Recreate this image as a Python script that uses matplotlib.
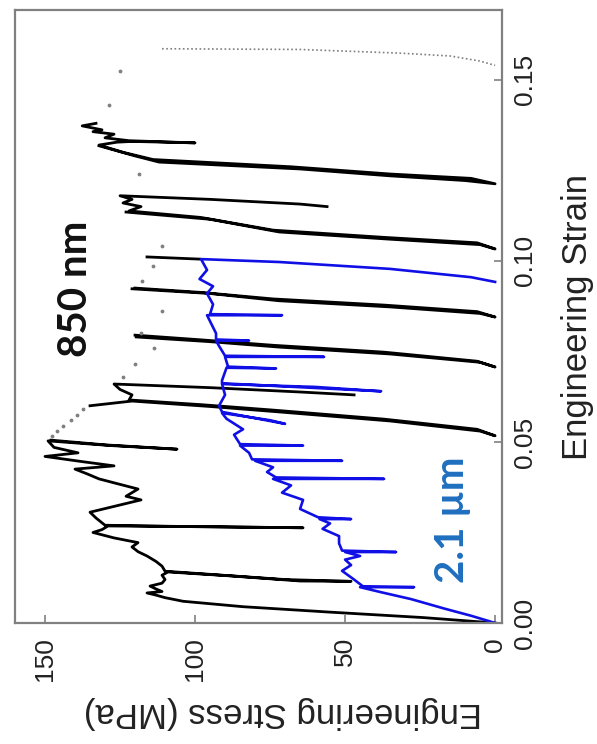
import matplotlib
matplotlib.use('Agg')
import matplotlib.pyplot as plt

# The chart is drawn turned on its side: stress runs along the bottom
# (increasing to the left) and strain runs up the right-hand side.
# Every segment below is a list of (strain, stress in MPa) pairs.

# 850 nm pillar - loading up to the first big peak
black_start = [(0.0000, 0), (0.0015, 24), (0.0030, 55), (0.0045, 84), (0.0060, 104),
               (0.0070, 110), (0.0077, 113), (0.0083, 116), (0.0087, 111), (0.0094, 113),
               (0.0102, 115), (0.0110, 111), (0.0120, 110), (0.0132, 111), (0.0141, 109),
               (0.0130, 88), (0.0116, 65), (0.0115, 48), (0.0120, 70), (0.0143, 110),
               (0.0157, 111), (0.0170, 113), (0.0185, 116), (0.0197, 119), (0.0210, 121),
               (0.0222, 119), (0.0235, 127), (0.0250, 134), (0.0258, 131), (0.0268, 129),
               (0.0266, 96), (0.0263, 64), (0.0266, 100), (0.0270, 130), (0.0290, 133),
               (0.0306, 135), (0.0320, 128), (0.0340, 118), (0.0350, 123), (0.0370, 119),
               (0.0385, 126), (0.0398, 132), (0.0412, 136), (0.0425, 140), (0.0434, 127),
               (0.0445, 137), (0.0460, 150), (0.0470, 139), (0.0485, 147), (0.0503, 149),
               (0.0490, 128), (0.0480, 106), (0.0492, 130), (0.0505, 148)]

# 850 nm - unload/reload loops
loop_a = [(0.0600, 135), (0.0613, 121), (0.0598, 95), (0.0583, 72), (0.0558, 35),
          (0.0530, 5), (0.0517, 0), (0.0535, 6), (0.0563, 37), (0.0588, 74),
          (0.0603, 98), (0.0616, 122), (0.0630, 121), (0.0645, 125), (0.0660, 127),
          (0.0650, 95), (0.0638, 65), (0.0630, 47)]
loop_b = [(0.0790, 119.6), (0.0777, 95), (0.0762, 72), (0.0743, 35), (0.0720, 5),
          (0.0707, 0), (0.0723, 6), (0.0748, 37), (0.0767, 74), (0.0782, 98), (0.0795, 120)]
loop_c = [(0.0923, 121), (0.0910, 95), (0.0890, 72), (0.0873, 35), (0.0855, 5),
          (0.0845, 0), (0.0860, 6), (0.0878, 37), (0.0895, 74), (0.0913, 98), (0.0925, 120)]
drop_d = [(0.1011, 116), (0.1005, 98.5)]
loop_d = [(0.1135, 123), (0.1115, 95), (0.1080, 72), (0.1060, 35), (0.1045, 5),
          (0.1033, 0), (0.1050, 6), (0.1065, 37), (0.1085, 74), (0.1120, 98),
          (0.1138, 122), (0.1150, 118), (0.1160, 124), (0.1170, 121), (0.1180, 125),
          (0.1170, 95), (0.1157, 65), (0.1150, 56)]
loop_e = [(0.1318, 132), (0.1290, 120), (0.1273, 112), (0.1254, 65), (0.1235, 35),
          (0.1222, 10), (0.1213, 0), (0.1228, 8), (0.1240, 35), (0.1260, 68),
          (0.1280, 114), (0.1300, 124), (0.1320, 132), (0.1328, 126), (0.1330, 121),
          (0.1328, 110), (0.1326, 100), (0.1332, 122), (0.1340, 130), (0.1350, 127),
          (0.1357, 134), (0.1362, 131), (0.1373, 137.6), (0.1380, 133)]

# 850 nm - sparse gray samples between the loops
gray_dots = [(0.0517, 147.7), (0.0530, 146), (0.0545, 144), (0.0560, 141.5), (0.0575, 139.5),
             (0.0590, 137.5), (0.0680, 124), (0.0715, 120), (0.0760, 113.6),
             (0.0800, 118), (0.0862, 111), (0.0945, 117.6), (0.0986, 114), (0.1040, 111),
             (0.1240, 118.6), (0.1430, 128.6), (0.1525, 125)]
# 850 nm - final unloading, dotted
gray_unload = [(0.1586, 111), (0.1584, 65), (0.1574, 32), (0.1566, 15), (0.1552, 5),
               (0.1540, 0)]

# 2.1 um pillar
blue_curve = [(0.0000, 0), (0.0020, 8), (0.0040, 17), (0.0066, 28), (0.0085, 38),
              (0.0099, 45), (0.0099, 27), (0.0101, 44), (0.0120, 47), (0.0144, 51),
              (0.0160, 48), (0.0175, 50), (0.0185, 45), (0.0196, 50), (0.0196, 33),
              (0.0200, 51), (0.0220, 52), (0.0240, 52), (0.0260, 57.5), (0.0275, 55),
              (0.0287, 58.5), (0.0287, 48), (0.0292, 59), (0.0315, 65), (0.0340, 64),
              (0.0360, 71), (0.0380, 68), (0.0398, 74), (0.0398, 37), (0.0402, 73),
              (0.0417, 76), (0.0430, 74), (0.0448, 80), (0.0448, 51), (0.0452, 81),
              (0.0470, 82), (0.0490, 85), (0.0490, 64), (0.0494, 85), (0.0520, 87),
              (0.0535, 84), (0.0564, 89.5), (0.0580, 91), (0.0560, 75), (0.0550, 70),
              (0.0583, 91), (0.0600, 92), (0.0630, 90), (0.0660, 91), (0.0652, 60),
              (0.0640, 38), (0.0662, 91), (0.0670, 91), (0.0705, 89.5), (0.0703, 73),
              (0.0708, 89), (0.0735, 90), (0.0735, 57), (0.0738, 90), (0.0765, 92),
              (0.0780, 93), (0.0780, 82), (0.0783, 93), (0.0800, 93), (0.0850, 96),
              (0.0850, 71), (0.0853, 95), (0.0880, 94), (0.0910, 96), (0.0930, 94),
              (0.0950, 98.5), (0.0975, 96), (0.1005, 98), (0.0997, 72), (0.0978, 35),
              (0.0955, 8), (0.0942, 0)]

stress_ticks = [0, 50, 100, 150]
strain_ticks = [0.00, 0.05, 0.10, 0.15]
strain_labels = ['0.00', '0.05', '0.10', '0.15']

plt.rcParams['font.family'] = ['Liberation Sans', 'DejaVu Sans']

fig = plt.figure(figsize=(5.97, 7.44), dpi=100)
ax = fig.add_axes([15 / 597, 121 / 744, 487 / 597, 613 / 744])


def draw(seg, **kw):
    ax.plot([p[1] for p in seg], [p[0] for p in seg], **kw)


for seg in [black_start, loop_a, loop_b, loop_c, drop_d, loop_d, loop_e]:
    draw(seg, color='black', lw=2.0, solid_joinstyle='round')
draw(blue_curve, color='#1010e6', lw=1.9, solid_joinstyle='round')
draw(gray_dots, color='#808080', lw=0, marker='.', markersize=3.5)
draw(gray_unload, color='#808080', lw=1.2, linestyle=(0, (1, 1.5)))

ax.text(139.7, 0.0923, '850 nm', rotation=90, ha='center', va='center',
        fontsize=29, fontweight='bold', color='#111111', family=['Lato', 'DejaVu Sans'])
ax.text(14.3, 0.0285, '2.1 \u00b5m', rotation=90, ha='center', va='center',
        fontsize=29, fontweight='bold', color='#1f6fbf', family=['Lato', 'DejaVu Sans'])

ax.set_xlim(160, -2.3)
ax.set_ylim(0.0, 0.1693)
ax.set_xticks(stress_ticks)
ax.set_yticks(strain_ticks)
ax.set_yticklabels(strain_labels)
ax.yaxis.tick_right()
ax.tick_params(axis='both', direction='in', length=6, width=1.2, color='#808080',
               labelsize=19, labelcolor='#222222')
ax.tick_params(axis='x', labelrotation=90, pad=10)
ax.tick_params(axis='y', labelrotation=90, pad=8)
for lab in ax.get_yticklabels():
    lab.set_va('center')

for sp in ax.spines.values():
    sp.set_color('#808080')
    sp.set_linewidth(1.6)

ax.set_xlabel('Engineering Stress (MPa)', rotation=180, fontsize=25, color='#222222')
ax.xaxis.set_label_coords((283 - 15) / 487, -(713 - 623) / 613)
ax.xaxis.label.set_va('center')
ax.set_ylabel('Engineering Strain', rotation=90, fontsize=25, color='#222222')
ax.yaxis.set_label_position('right')
ax.yaxis.set_label_coords((577 - 15) / 487, 0.5)
ax.yaxis.label.set_va('center')

fig.savefig('out.png', dpi=100, facecolor='white')
